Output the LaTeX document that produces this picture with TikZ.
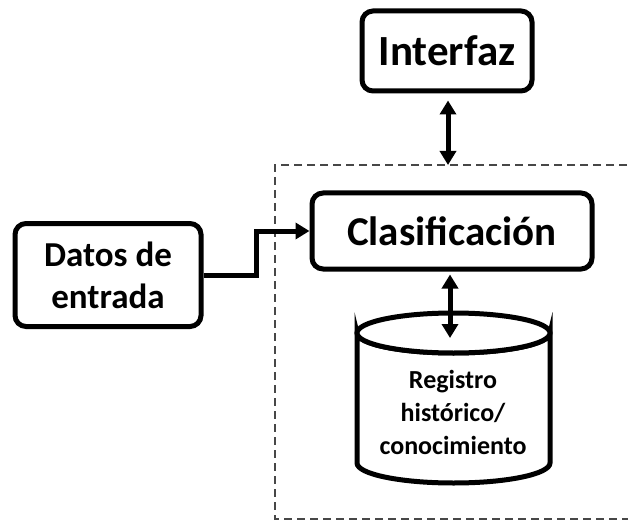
\documentclass[tikz,border=0pt]{standalone}
\usepackage{fontspec}
\setmainfont{Carlito}
\usetikzlibrary{arrows.meta}
\begin{document}
\begin{tikzpicture}[x=1pt,y=-1pt,
  box/.style={draw,line width=5pt,rounded corners=11pt,font=\bfseries,align=center,inner sep=0pt},
  cyl/.style={draw,line width=5pt,fill=white},
  conn/.style={line width=5pt,-{Triangle[length=14pt,width=16pt]}},
  biconn/.style={line width=5pt,{Triangle[length=14pt,width=16pt]}-{Triangle[length=14pt,width=16pt]}},
  dashbox/.style={draw=black!72,line width=2pt,dash pattern=on 8pt off 5pt}]
\useasboundingbox (0,0) rectangle (628,521);
\draw[dashbox] (640,165) -- (275,165) -- (275,519) -- (640,519);
\node[box,minimum width=170pt,minimum height=80pt,font=\bfseries\fontsize{43}{45}\selectfont] (int) at (447,51) {Interfaz};
\node[box,minimum width=280pt,minimum height=76pt,font=\bfseries\fontsize{41}{45}\selectfont] (cla) at (452,231) {Clasificación};
\node[box,minimum width=186pt,minimum height=103pt,font=\bfseries\fontsize{35}{42}\selectfont] (dat) at (108,275) {Datos de\\entrada};
% cylinder
\draw[cyl] (357,333) -- (357,463) arc[start angle=180,end angle=360,x radius=96.5pt,y radius=20pt] -- (550,333)
  arc[start angle=0,end angle=-180,x radius=96.5pt,y radius=20pt] -- cycle;
\draw[cyl] (453.5,333) ellipse[x radius=96.5pt,y radius=20pt];
\node[font=\bfseries\fontsize{26}{33}\selectfont,align=center] (reg) at (453,412) {Registro\\histórico/\\conocimiento};
\coordinate (dtop) at (448,165);
\draw[biconn] (int.south -| dtop) ++(0,7) coordinate (ia) -- (dtop);
\coordinate (ra) at (450,338);
\draw[biconn] (cla.south -| ra) ++(0,3) -- (ra);
\coordinate (m1) at (256,275);
\draw[conn] (dat.east |- m1) -- (m1) |- (cla.west);
\end{tikzpicture}
\end{document}
